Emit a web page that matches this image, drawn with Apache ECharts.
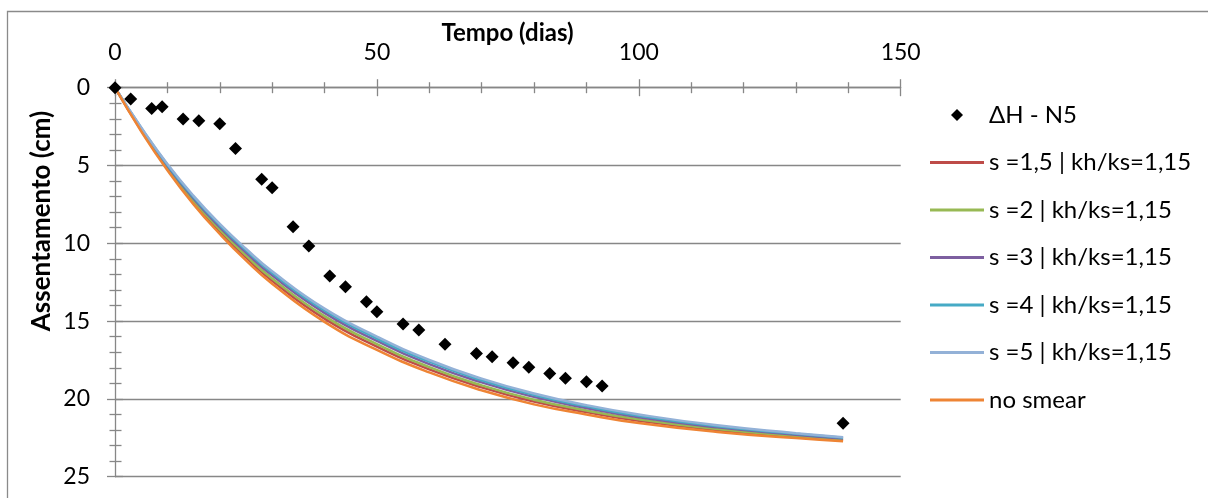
<!DOCTYPE html>
<html>
<head>
<meta charset="utf-8">
<script src="https://cdn.jsdelivr.net/npm/echarts@6/dist/echarts.min.js"></script>
<style>
  html, body { margin: 0; padding: 0; background: #ffffff; }
  #chart { width: 1208px; height: 498px; }
</style>
</head>
<body>
<div id="chart"></div>
<script>
// Measured settlement, plate N5
const measuredDays = [0, 3, 7, 9, 13, 16, 20, 23, 28, 30, 34, 37, 41, 44, 48, 50, 55, 58, 63, 69, 72, 76, 79, 83, 86, 90, 93, 139];
const measuredCm   = [0, 0.73, 1.33, 1.22, 2.01, 2.12, 2.31, 3.9, 5.89, 6.43, 8.93, 10.17, 12.1, 12.79, 13.75, 14.4, 15.19, 15.57, 16.49, 17.09, 17.29, 17.67, 17.97, 18.36, 18.68, 18.89, 19.17, 21.57];

// Predicted settlement curves (days / cm)
const curveDays = [0, 5, 10, 15, 20, 25, 30, 40, 50, 60, 70, 80, 90, 100, 115, 130, 139];
const smear15   = [0, 2.74, 5.2, 7.36, 9.24, 10.91, 12.4, 14.84, 16.64, 18.1, 19.26, 20.17, 20.85, 21.41, 22.01, 22.44, 22.66];
const smear2    = [0, 2.69, 5.13, 7.26, 9.12, 10.78, 12.26, 14.68, 16.48, 17.96, 19.13, 20.05, 20.74, 21.31, 21.94, 22.38, 22.61];
const smear3    = [0, 2.63, 5.03, 7.13, 8.96, 10.59, 12.06, 14.47, 16.27, 17.76, 18.94, 19.87, 20.59, 21.18, 21.83, 22.3, 22.55];
const smear4    = [0, 2.58, 4.96, 7.03, 8.84, 10.45, 11.91, 14.32, 16.12, 17.61, 18.8, 19.75, 20.48, 21.08, 21.76, 22.24, 22.5];
const smear5    = [0, 2.55, 4.9, 6.95, 8.75, 10.35, 11.8, 14.2, 16.0, 17.5, 18.7, 19.65, 20.4, 21.0, 21.7, 22.2, 22.47];
const noSmear   = [0, 2.8, 5.3, 7.5, 9.4, 11.1, 12.6, 15.05, 16.85, 18.3, 19.45, 20.35, 21.0, 21.55, 22.12, 22.52, 22.72];

const seriesNames = ['ΔH - N5', 's =1,5 | kh/ks=1,15', 's =2 | kh/ks=1,15', 's =3 | kh/ks=1,15', 's =4 | kh/ks=1,15', 's =5 | kh/ks=1,15', 'no smear'];
const xRange = { min: 0, max: 150, step: 50 };
const yRange = { min: 0, max: 25, step: 5 };

const FONT = 'Lato, "Open Sans", sans-serif';
const AXIS_GREY = '#878787';
const LEGEND_LINE = 'path://M0,0H54V3H0Z';
const LEGEND_DIAMOND = 'path://M6,0L12,6L6,12L0,6Z';

const pair = (xs, ys) => xs.map((x, i) => [x, ys[i]]);

const curveDefs = [
  { name: seriesNames[1], data: smear15, color: '#BE4B48' },
  { name: seriesNames[2], data: smear2,  color: '#98B954' },
  { name: seriesNames[3], data: smear3,  color: '#7D5FA0' },
  { name: seriesNames[4], data: smear4,  color: '#46AAC5' },
  { name: seriesNames[5], data: smear5,  color: '#93B1D7' },
  { name: seriesNames[6], data: noSmear, color: '#EE8434' }
];

const chart = echarts.init(document.getElementById('chart'), null, { renderer: 'canvas' });

const xAxisBase = {
  type: 'value', position: 'top', min: xRange.min, max: xRange.max, interval: xRange.step,
  splitLine: { show: false }
};
const yAxisBase = {
  type: 'value', position: 'left', inverse: true, min: yRange.min, max: yRange.max, interval: yRange.step
};

chart.setOption({
  animation: false,
  backgroundColor: '#ffffff',
  grid: { left: 115, top: 87.7, right: 307.3, bottom: 21.3, containLabel: false },
  xAxis: [
    Object.assign({}, xAxisBase, {
      axisLine: { show: true, lineStyle: { color: AXIS_GREY, width: 1.3 } },
      axisTick: { show: true, inside: false, length: 8.5, lineStyle: { color: AXIS_GREY, width: 1.3 } },
      minorTick: { show: true, splitNumber: 5, length: 5.5, lineStyle: { color: AXIS_GREY, width: 1.3 } },
      axisLabel: { show: true, margin: 24, color: '#000', fontFamily: FONT, fontSize: 23 }
    }),
    Object.assign({}, xAxisBase, {
      axisLine: { show: false },
      axisTick: { show: true, inside: true, length: 8.5, lineStyle: { color: AXIS_GREY, width: 1.3 } },
      minorTick: { show: true, splitNumber: 5, length: 5.5, lineStyle: { color: AXIS_GREY, width: 1.3 } },
      axisLabel: { show: false }
    })
  ],
  yAxis: [
    Object.assign({}, yAxisBase, {
      axisLine: { show: true, lineStyle: { color: AXIS_GREY, width: 1.3 } },
      axisTick: { show: true, inside: false, length: 8, lineStyle: { color: AXIS_GREY, width: 1.3 } },
      minorTick: { show: true, splitNumber: 5, length: 5.5, lineStyle: { color: AXIS_GREY, width: 1.3 } },
      axisLabel: { show: true, margin: 25, color: '#000', fontFamily: FONT, fontSize: 23 },
      splitLine: { show: true, lineStyle: { color: AXIS_GREY, width: 1.3 } }
    }),
    Object.assign({}, yAxisBase, {
      axisLine: { show: false },
      axisTick: { show: true, inside: true, length: 8, lineStyle: { color: AXIS_GREY, width: 1.3 } },
      minorTick: { show: true, splitNumber: 5, length: 6.5, lineStyle: { color: AXIS_GREY, width: 1.3 } },
      axisLabel: { show: false },
      splitLine: { show: false }
    })
  ],
  legend: {
    orient: 'vertical',
    left: 925,
    top: 97,
    itemWidth: 54,
    itemHeight: 12,
    itemGap: 21.5,
    symbolKeepAspect: true,
    data: seriesNames.map((n, i) => ({ name: n, icon: i === 0 ? LEGEND_DIAMOND : LEGEND_LINE })),
    textStyle: { color: '#000', fontFamily: FONT, fontSize: 24, lineHeight: 26 }
  },
  graphic: [
    {
      type: 'rect', silent: true, z: -10,
      shape: { x: 7.5, y: 11.5, width: 1300, height: 600 },
      style: { fill: 'none', stroke: '#8a8a8a', lineWidth: 1.3 }
    },
    {
      type: 'text', silent: true,
      x: 507.5, y: 33,
      style: { text: 'Tempo (dias)', font: 'bold 24px ' + FONT, fill: '#000', textAlign: 'center', textVerticalAlign: 'middle' }
    },
    {
      type: 'text', silent: true,
      x: 42, y: 221, rotation: Math.PI / 2,
      style: { text: 'Assentamento (cm)', font: 'bold 26px ' + FONT, fill: '#000', textAlign: 'center', textVerticalAlign: 'middle' }
    }
  ],
  series: [
    {
      name: seriesNames[0], type: 'scatter', xAxisIndex: 0, yAxisIndex: 0,
      symbol: 'diamond', symbolSize: 13, z: 3,
      itemStyle: { color: '#000000', opacity: 1 },
      data: pair(measuredDays, measuredCm)
    }
  ].concat(curveDefs.map(c => ({
    name: c.name, type: 'line', xAxisIndex: 0, yAxisIndex: 0,
    symbol: 'none', smooth: 0.5, z: 2,
    lineStyle: { color: c.color, width: 2.5 },
    itemStyle: { color: c.color },
    data: pair(curveDays, c.data)
  })))
});
</script>
</body>
</html>
